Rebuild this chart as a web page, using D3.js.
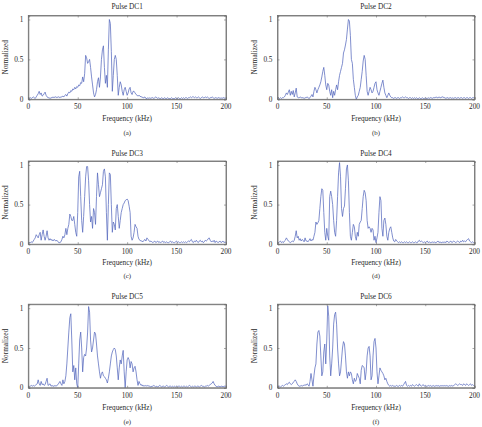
<!DOCTYPE html>
<html><head><meta charset="utf-8">
<script src="https://cdn.jsdelivr.net/npm/d3@7"></script>
<style>
html,body{margin:0;padding:0;background:#fff;}
svg{display:block;}
text{font-family:"Liberation Serif","Times New Roman",serif;fill:#2a2a2a;}
</style></head>
<body>
<script>
// ---- data ----
const titles = ["Pulse DC1","Pulse DC2","Pulse DC3","Pulse DC4","Pulse DC5","Pulse DC6"];
const letters = ["(a)","(b)","(c)","(d)","(e)","(f)"];
const xTicks = [0,50,100,150,200];
const yTicks = [0,0.5,1];
const yTickLabels = ["0","0.5","1"];
const xLabel = "Frequency (kHz)";
const yLabel = "Normalized";
// one value per kHz, 0..200 kHz
const dc1 = [
0.02,0.01,0.02,0.01,0.02,0.03,0.02,0.01,0.03,0.05,
0.07,0.10,0.06,0.08,0.04,0.05,0.07,0.09,0.05,0.03,
0.02,0.02,0.01,0.02,0.02,0.03,0.02,0.03,0.03,0.02,
0.03,0.03,0.02,0.03,0.03,0.04,0.03,0.05,0.06,0.04,
0.07,0.09,0.08,0.11,0.10,0.13,0.12,0.15,0.13,0.16,
0.15,0.18,0.17,0.21,0.20,0.28,0.22,0.32,0.55,0.52,
0.45,0.47,0.50,0.40,0.28,0.18,0.08,0.03,0.06,0.12,
0.22,0.27,0.15,0.28,0.50,0.62,0.67,0.40,0.20,0.30,
0.15,0.62,1.00,0.95,0.60,0.10,0.30,0.50,0.55,0.50,
0.30,0.05,0.15,0.22,0.18,0.10,0.05,0.12,0.15,0.10,
0.05,0.08,0.13,0.15,0.08,0.06,0.10,0.10,0.08,0.06,
0.05,0.04,0.05,0.04,0.03,0.03,0.02,0.02,0.03,0.01,
0.01,0.02,0.01,0.02,0.01,0.02,0.02,0.01,0.02,0.03,
0.02,0.01,0.02,0.01,0.01,0.02,0.01,0.01,0.02,0.01,
0.01,0.02,0.01,0.01,0.01,0.02,0.01,0.01,0.01,0.02,
0.01,0.01,0.02,0.01,0.01,0.02,0.01,0.02,0.01,0.02,
0.02,0.01,0.02,0.02,0.03,0.02,0.03,0.03,0.02,0.03,
0.02,0.02,0.03,0.02,0.01,0.02,0.03,0.02,0.02,0.03,
0.02,0.03,0.02,0.01,0.02,0.02,0.03,0.02,0.01,0.02,
0.02,0.01,0.02,0.02,0.01,0.02,0.01,0.02,0.02,0.01,
0.02];
const dc2 = [
0.01,0.02,0.01,0.02,0.01,0.02,0.02,0.03,0.05,0.08,
0.06,0.09,0.12,0.05,0.10,0.06,0.11,0.03,0.08,0.14,
0.03,0.02,0.02,0.03,0.02,0.02,0.02,0.01,0.02,0.02,
0.03,0.02,0.01,0.02,0.04,0.06,0.03,0.10,0.15,0.12,
0.08,0.12,0.15,0.18,0.22,0.28,0.35,0.40,0.30,0.18,
0.12,0.20,0.18,0.10,0.05,0.12,0.02,0.10,0.05,0.12,
0.18,0.12,0.22,0.30,0.35,0.40,0.45,0.58,0.62,0.68,
0.75,0.88,1.00,0.98,0.80,0.50,0.45,0.25,0.15,0.05,
0.00,0.03,0.05,0.10,0.15,0.25,0.35,0.48,0.55,0.50,
0.30,0.10,0.05,0.10,0.15,0.12,0.08,0.10,0.15,0.20,
0.22,0.12,0.08,0.05,0.10,0.15,0.20,0.24,0.15,0.08,
0.05,0.02,0.05,0.08,0.05,0.03,0.02,0.02,0.01,0.02,
0.02,0.01,0.02,0.02,0.01,0.02,0.02,0.03,0.02,0.02,
0.03,0.02,0.02,0.01,0.02,0.02,0.01,0.02,0.01,0.02,
0.01,0.02,0.01,0.01,0.02,0.01,0.01,0.02,0.01,0.01,
0.02,0.01,0.01,0.02,0.01,0.02,0.02,0.01,0.02,0.02,
0.02,0.03,0.02,0.02,0.03,0.02,0.02,0.03,0.03,0.02,
0.02,0.01,0.02,0.02,0.01,0.02,0.02,0.01,0.02,0.01,
0.02,0.02,0.01,0.02,0.02,0.01,0.02,0.02,0.01,0.02,
0.02,0.01,0.02,0.02,0.01,0.02,0.02,0.01,0.02,0.02,
0.02];
const dc3 = [
0.01,0.02,0.02,0.03,0.02,0.04,0.06,0.08,0.12,0.10,
0.08,0.12,0.15,0.05,0.12,0.18,0.10,0.05,0.10,0.17,
0.08,0.05,0.07,0.05,0.06,0.04,0.06,0.05,0.04,0.05,
0.03,0.02,0.02,0.03,0.06,0.10,0.08,0.12,0.20,0.12,
0.20,0.25,0.38,0.35,0.30,0.30,0.35,0.25,0.15,0.10,
0.40,0.85,0.92,0.60,0.30,0.15,0.35,0.60,0.85,0.98,
0.98,0.80,0.50,0.28,0.35,0.20,0.45,0.40,0.25,0.60,
0.90,0.75,0.60,0.65,0.70,0.75,0.92,0.95,0.85,0.40,
0.05,0.50,0.90,0.88,0.50,0.15,0.28,0.25,0.18,0.45,
0.50,0.35,0.20,0.30,0.40,0.45,0.50,0.52,0.55,0.56,
0.57,0.55,0.48,0.40,0.10,0.05,0.08,0.15,0.25,0.22,
0.20,0.10,0.06,0.05,0.04,0.04,0.03,0.05,0.06,0.04,
0.08,0.06,0.05,0.03,0.04,0.03,0.02,0.03,0.04,0.02,
0.03,0.04,0.02,0.03,0.02,0.03,0.04,0.02,0.03,0.02,
0.03,0.02,0.02,0.03,0.04,0.02,0.03,0.02,0.02,0.03,
0.04,0.02,0.03,0.02,0.02,0.03,0.02,0.03,0.02,0.03,
0.02,0.03,0.04,0.03,0.05,0.06,0.03,0.02,0.04,0.03,
0.05,0.03,0.02,0.04,0.05,0.03,0.04,0.02,0.03,0.05,
0.04,0.05,0.07,0.08,0.05,0.03,0.04,0.03,0.05,0.02,
0.04,0.03,0.02,0.03,0.04,0.02,0.03,0.04,0.02,0.03,
0.02];
const dc4 = [
0.03,0.02,0.03,0.04,0.02,0.03,0.02,0.04,0.05,0.08,
0.06,0.04,0.03,0.02,0.03,0.04,0.03,0.05,0.10,0.17,
0.08,0.10,0.05,0.07,0.04,0.06,0.05,0.03,0.08,0.04,
0.04,0.03,0.05,0.07,0.04,0.06,0.05,0.10,0.15,0.28,
0.25,0.27,0.30,0.45,0.60,0.70,0.68,0.40,0.15,0.05,
0.20,0.10,0.05,0.60,0.67,0.60,0.50,0.30,0.15,0.10,
0.30,0.60,0.90,1.03,0.85,0.45,0.35,0.45,0.48,0.70,
0.95,1.00,0.80,0.40,0.10,0.05,0.15,0.25,0.22,0.10,
0.05,0.15,0.10,0.25,0.28,0.30,0.45,0.60,0.68,0.65,
0.55,0.30,0.20,0.22,0.20,0.15,0.20,0.18,0.05,0.10,
0.02,0.08,0.15,0.40,0.60,0.55,0.20,0.10,0.30,0.33,
0.25,0.10,0.05,0.15,0.20,0.22,0.15,0.08,0.04,0.03,
0.06,0.04,0.03,0.02,0.03,0.02,0.03,0.02,0.02,0.03,
0.02,0.03,0.02,0.02,0.03,0.02,0.02,0.03,0.02,0.02,
0.03,0.02,0.02,0.04,0.05,0.03,0.04,0.03,0.02,0.03,
0.02,0.03,0.04,0.02,0.03,0.02,0.02,0.03,0.02,0.03,
0.02,0.02,0.03,0.04,0.02,0.03,0.02,0.02,0.03,0.02,
0.03,0.02,0.04,0.03,0.02,0.03,0.04,0.02,0.03,0.04,
0.03,0.02,0.03,0.04,0.03,0.02,0.04,0.03,0.05,0.03,
0.04,0.03,0.05,0.06,0.07,0.04,0.03,0.02,0.03,0.02,
0.02];
const dc5 = [
0.02,0.01,0.02,0.03,0.02,0.03,0.02,0.03,0.04,0.05,
0.10,0.05,0.03,0.08,0.04,0.05,0.03,0.04,0.08,0.12,
0.03,0.04,0.05,0.02,0.03,0.02,0.02,0.03,0.02,0.03,
0.04,0.06,0.08,0.05,0.03,0.10,0.05,0.08,0.15,0.30,
0.50,0.70,0.88,0.93,0.60,0.20,0.28,0.10,0.25,0.05,
0.00,0.30,0.60,0.70,0.50,0.20,0.38,0.42,0.40,0.50,
0.70,1.02,0.95,0.60,0.45,0.50,0.60,0.70,0.68,0.55,
0.40,0.30,0.20,0.12,0.18,0.20,0.15,0.14,0.12,0.10,
0.06,0.12,0.20,0.30,0.40,0.45,0.48,0.50,0.48,0.40,
0.25,0.10,0.25,0.35,0.30,0.40,0.47,0.20,0.00,0.20,
0.35,0.38,0.35,0.25,0.33,0.30,0.20,0.25,0.27,0.20,
0.10,0.03,0.08,0.05,0.03,0.04,0.02,0.03,0.02,0.03,
0.02,0.03,0.02,0.02,0.01,0.02,0.02,0.03,0.02,0.01,
0.02,0.01,0.02,0.03,0.02,0.01,0.02,0.02,0.01,0.02,
0.03,0.02,0.01,0.02,0.02,0.01,0.02,0.01,0.02,0.01,
0.02,0.01,0.02,0.02,0.01,0.02,0.01,0.02,0.02,0.01,
0.02,0.01,0.02,0.03,0.02,0.01,0.02,0.01,0.02,0.02,
0.01,0.02,0.02,0.01,0.02,0.03,0.02,0.02,0.01,0.02,
0.02,0.03,0.02,0.03,0.04,0.05,0.06,0.08,0.05,0.03,
0.02,0.01,0.02,0.02,0.01,0.02,0.02,0.01,0.02,0.02,
0.02];
const dc6 = [
0.01,0.02,0.02,0.01,0.02,0.03,0.02,0.03,0.04,0.05,
0.04,0.06,0.07,0.05,0.04,0.05,0.07,0.08,0.10,0.08,
0.05,0.03,0.02,0.02,0.03,0.02,0.03,0.03,0.04,0.03,
0.05,0.04,0.02,0.08,0.18,0.10,0.02,0.15,0.25,0.30,
0.55,0.70,0.72,0.65,0.40,0.15,0.20,0.45,0.55,0.30,
0.60,1.03,0.90,0.40,0.15,0.30,0.50,0.80,0.92,0.95,
0.80,0.50,0.30,0.15,0.20,0.35,0.50,0.58,0.55,0.40,
0.20,0.12,0.20,0.15,0.20,0.18,0.10,0.05,0.12,0.08,
0.10,0.18,0.15,0.12,0.05,0.22,0.28,0.27,0.25,0.10,
0.20,0.40,0.50,0.52,0.40,0.10,0.15,0.40,0.58,0.62,
0.50,0.20,0.05,0.15,0.25,0.22,0.20,0.18,0.15,0.10,
0.12,0.08,0.05,0.03,0.02,0.03,0.02,0.03,0.02,0.02,
0.02,0.03,0.02,0.02,0.03,0.02,0.03,0.02,0.04,0.06,
0.08,0.03,0.02,0.03,0.02,0.03,0.02,0.04,0.03,0.02,
0.03,0.04,0.03,0.02,0.05,0.03,0.02,0.03,0.04,0.02,
0.03,0.02,0.02,0.03,0.02,0.03,0.02,0.02,0.03,0.02,
0.02,0.03,0.02,0.03,0.02,0.02,0.03,0.02,0.03,0.02,
0.03,0.02,0.03,0.02,0.02,0.03,0.02,0.03,0.02,0.03,
0.04,0.05,0.04,0.03,0.04,0.05,0.04,0.04,0.03,0.05,
0.04,0.03,0.05,0.04,0.03,0.04,0.05,0.03,0.04,0.03,
0.03];
const series = [dc1,dc2,dc3,dc4,dc5,dc6];

// ---- layout ----
const W = 482, H = 427;
const cols = [{L:28.3,R:226},{L:277.5,R:474.5}];
const rows = [
  {T:15.5,B:99.3,title:6,tick:106.7,xlab:118.3,let:132.7},
  {T:161,B:244.2,title:153,tick:251,xlab:262.7,let:276},
  {T:304.2,B:387.8,title:296.7,tick:395,xlab:407.3,let:421.3}
];
const LINE = "#5769bd", AX = "#6e6e6e", FS = 7.3;

const svg = d3.select("body").append("svg").attr("width",W).attr("height",H);

series.forEach((vals,i)=>{
  const c = cols[i%2], r = rows[Math.floor(i/2)];
  const x = d3.scaleLinear().domain([0,200]).range([c.L,c.R]);
  const y = d3.scaleLinear().domain([0,1.05]).range([r.B,r.T]);
  const g = svg.append("g");
  const cx = (c.L+c.R)/2;

  const line = d3.line().x((d,k)=>x(k)).y(d=>y(d));
  g.append("path").datum(vals).attr("d",line)
    .attr("fill","none").attr("stroke",LINE).attr("stroke-width",0.75)
    .attr("stroke-linejoin","round");

  const tk = 2;
  const xb = g.append("g").attr("transform",`translate(0,${r.B})`)
    .call(d3.axisBottom(x).tickValues(xTicks).tickSize(-tk).tickFormat(""));
  const xt = g.append("g").attr("transform",`translate(0,${r.T})`)
    .call(d3.axisTop(x).tickValues(xTicks).tickSize(-tk).tickFormat(""));
  const yl = g.append("g").attr("transform",`translate(${c.L},0)`)
    .call(d3.axisLeft(y).tickValues(yTicks).tickSize(-tk).tickFormat(""));
  const yr = g.append("g").attr("transform",`translate(${c.R},0)`)
    .call(d3.axisRight(y).tickValues(yTicks).tickSize(-tk).tickFormat(""));
  [xb,xt,yl,yr].forEach(a=>{
    a.selectAll("path").attr("stroke",AX).attr("stroke-width",0.8);
    a.selectAll("line").attr("stroke",AX).attr("stroke-width",0.6);
  });
  g.append("rect").attr("x",c.L).attr("y",r.T).attr("width",c.R-c.L).attr("height",r.B-r.T)
    .attr("fill","none").attr("stroke",AX).attr("stroke-width",0.8);

  g.selectAll(".xl").data(xTicks).enter().append("text")
    .attr("x",d=>x(d)).attr("y",r.tick).attr("dy","0.35em")
    .attr("text-anchor","middle").attr("font-size",FS).text(d=>d);
  g.selectAll(".yl").data(yTicks).enter().append("text")
    .attr("x",c.L-5).attr("y",d=>y(d)).attr("dy","0.35em")
    .attr("text-anchor","end").attr("font-size",FS).text((d,k)=>yTickLabels[k]);

  g.append("text").attr("x",cx).attr("y",r.title).attr("dy","0.35em")
    .attr("text-anchor","middle").attr("font-size",FS).text(titles[i]);
  g.append("text").attr("x",cx).attr("y",r.xlab).attr("dy","0.35em")
    .attr("text-anchor","middle").attr("font-size",FS).text(xLabel);
  g.append("text").attr("x",cx).attr("y",r.let).attr("dy","0.35em")
    .attr("text-anchor","middle").attr("font-size",6.8).text(letters[i]);
  g.append("text")
    .attr("transform",`translate(${c.L-23},${(r.T+r.B)/2}) rotate(-90)`)
    .attr("dy","0.35em").attr("text-anchor","middle").attr("font-size",FS).text(yLabel);
});
</script>
</body></html>
